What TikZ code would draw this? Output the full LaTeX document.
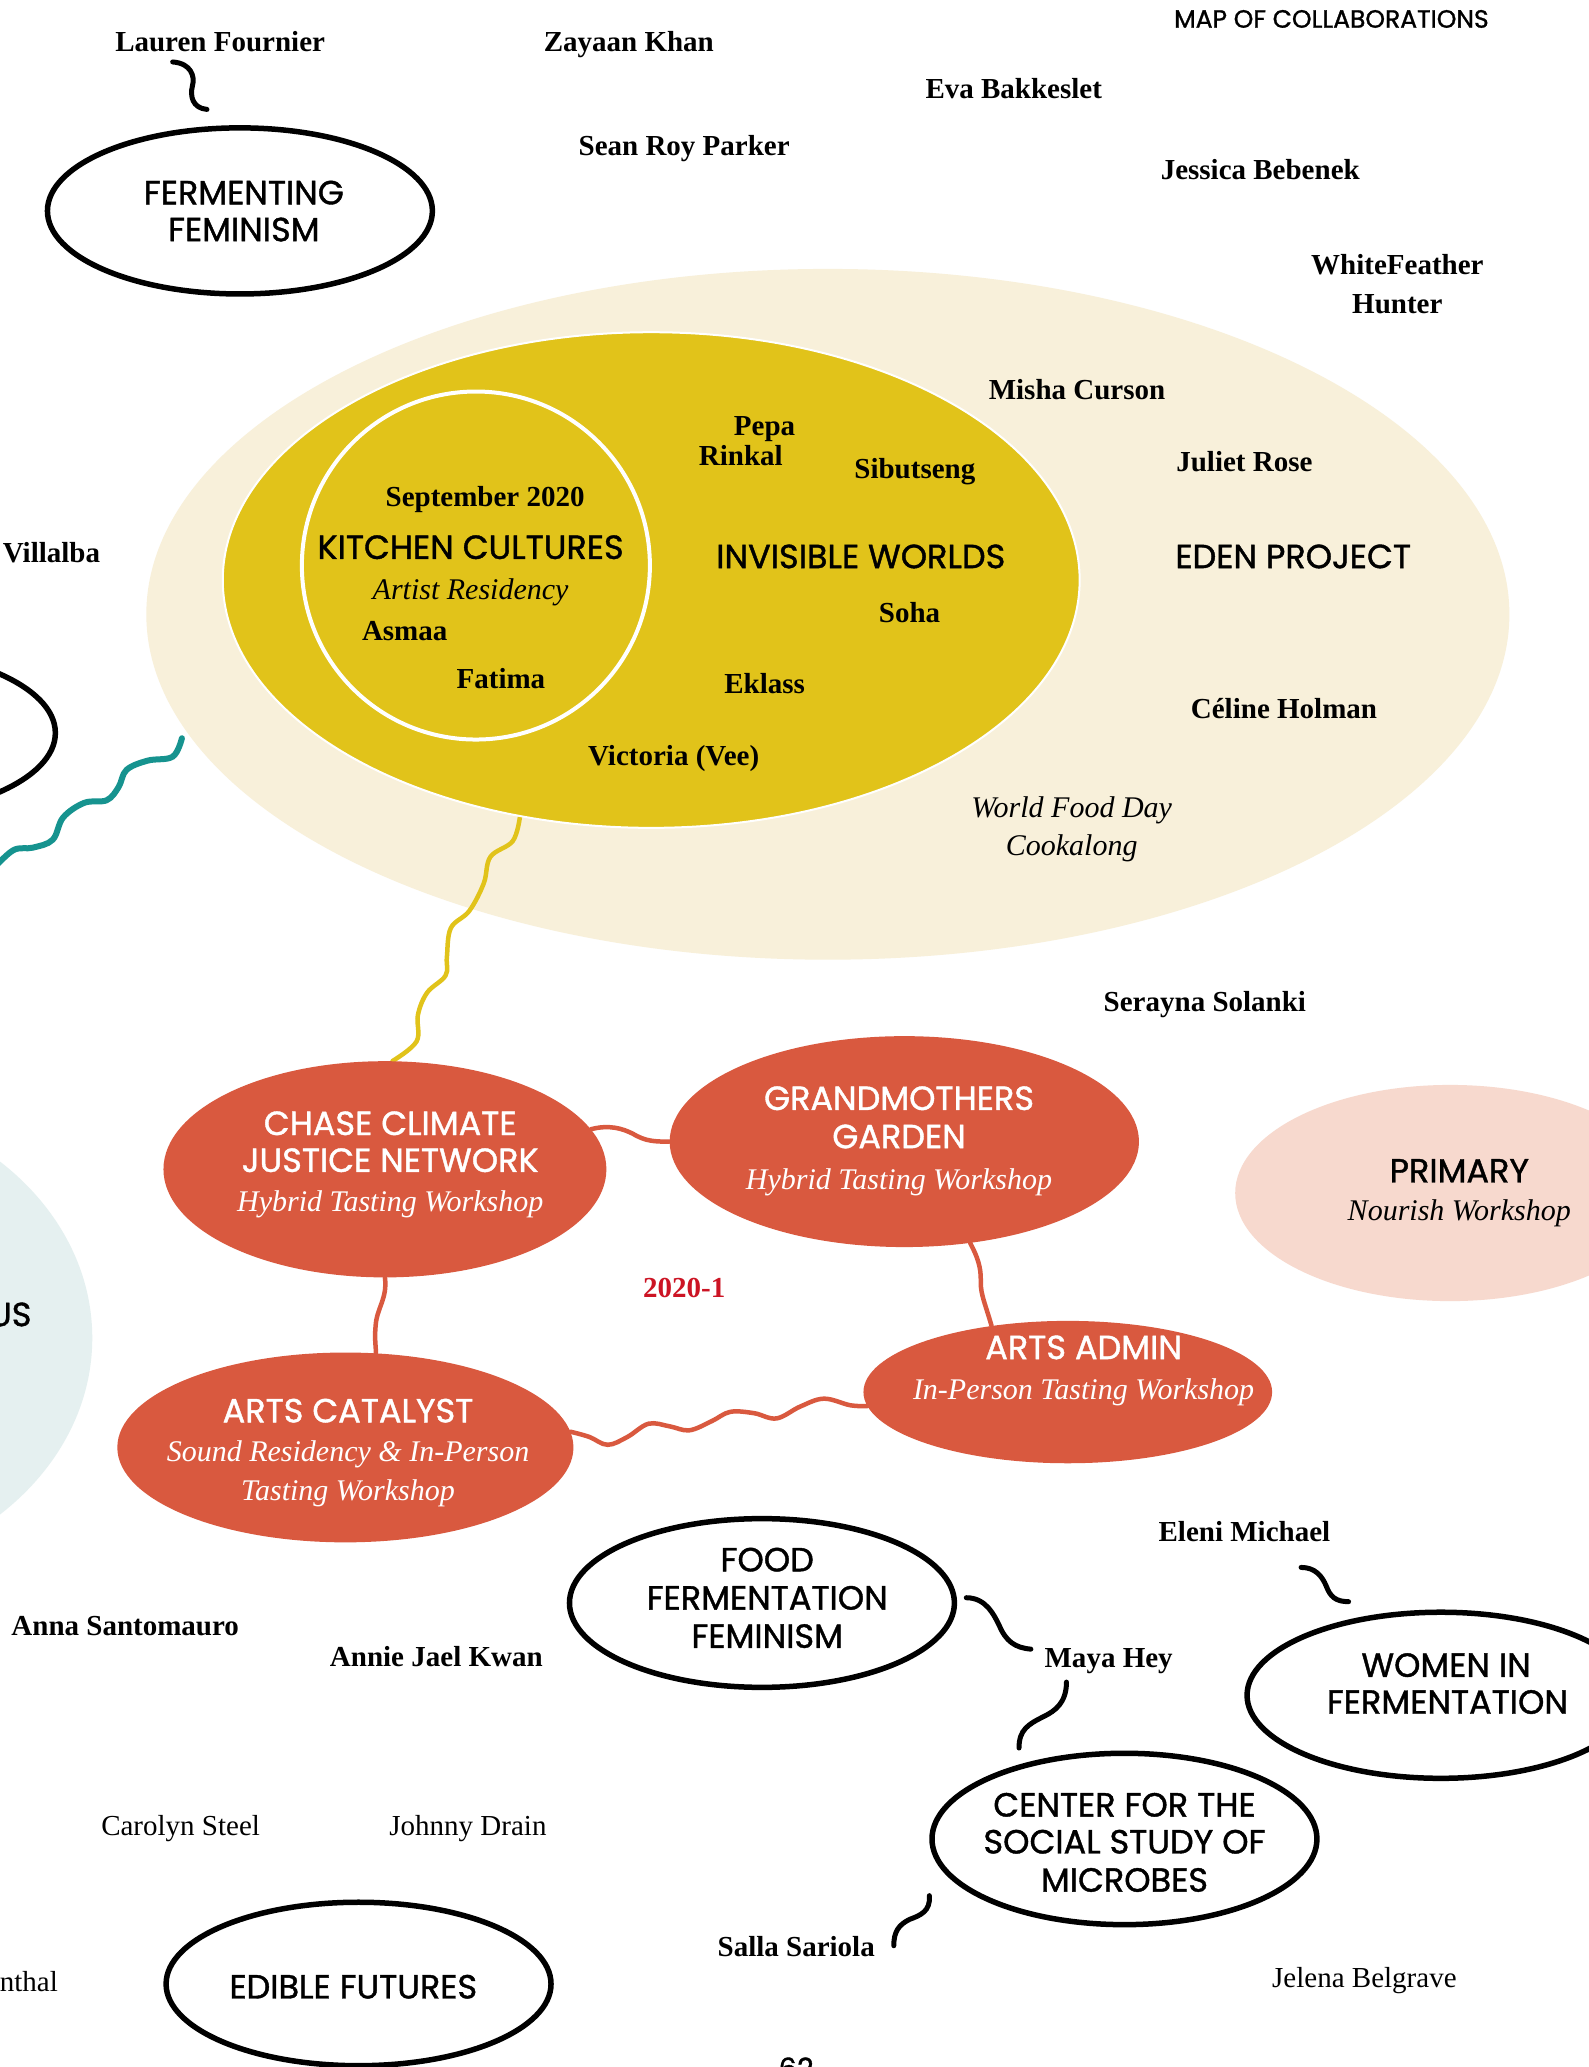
\documentclass[tikz,border=0pt]{standalone}
\usepackage{fontspec}
\setmainfont{Liberation Serif}
\newfontfamily\sansf[FakeBold=1.2]{Poppins}
\usetikzlibrary{shapes.geometric}
\definecolor{cream}{HTML}{F8F0DA}
\definecolor{yel}{HTML}{E1C31A}
\definecolor{redc}{HTML}{D9593F}
\definecolor{pinkc}{HTML}{F7D9CE}
\definecolor{lblue}{HTML}{E5F0F0}
\definecolor{tealc}{HTML}{16938F}
\definecolor{datered}{HTML}{CC1424}
\pgfdeclarelayer{back}
\pgfdeclarelayer{conn}
\pgfsetlayers{back,conn,main}
\tikzset{
  labl/.style={inner sep=0pt, anchor=base},
  nml/.style={labl, font=\fontsize{29}{34}\selectfont\bfseries},
  nrl/.style={labl, font=\fontsize{29}{34}\selectfont},
  itl/.style={labl, font=\fontsize{30}{34}\selectfont\itshape},
  capl/.style={labl, font=\sansf\fontsize{33.5}{38}\selectfont},
  ell/.style 2 args={ellipse, inner sep=0pt, minimum width=#1*2.636pt, minimum height=#2*2.636pt},
  bell/.style={draw=black, line width=5.5pt},
  squig/.style={line width=5pt, line cap=round, draw=black},
  rconn/.style={line width=4.5pt, draw=redc, line cap=round},
  yconn/.style={line width=4.5pt, draw=yel, line cap=round},
  tconn/.style={line width=6pt, draw=tealc, line cap=round},
}
\begin{document}
\begin{tikzpicture}[x=1.318pt,y=-1.318pt]
\useasboundingbox (0,0) rectangle (1205,1568);
\begin{pgfonlayer}{back}
\fill[white] (-20,-20) rectangle (1225,1590);
\node[ell={517}{262}, fill=cream] (eden) at (628,466) {};
\node[ell={220}{183}, fill=lblue] (lb) at (-150,1015) {};
\end{pgfonlayer}

% main shapes
\node[ell={325}{188}, fill=yel, draw=white, line width=2pt] (inv) at (494,440) {};
\node[ell={132}{132}, fill=yel, draw=white, line width=4pt] (kc) at (361,429) {};
\node[ell={168}{82}, fill=redc] (chase) at (292,887) {};
\node[ell={178}{80}, fill=redc] (grand) at (686,866) {};
\node[ell={155}{54}, fill=redc] (admin) at (810,1056) {};
\node[ell={173}{72}, fill=redc] (cat) at (262,1098) {};
\node[ell={163}{82}, fill=pinkc] (prim) at (1100,905) {};
\node[ell={146}{63}, bell] (ff) at (182,160) {};
\node[ell={146}{64}, bell] (food) at (578,1216) {};
\node[ell={147}{63}, bell] (women) at (1093,1286) {};
\node[ell={146}{65}, bell] (csm) at (853,1395) {};
\node[ell={146}{62}, bell] (edible) at (272,1505) {};
\node[ell={148}{64}, bell] (lx) at (-106,556) {};

% free ends of connectors
\coordinate (tA) at (138,560);
\coordinate (tB) at (-6,660);
\coordinate (lfA) at (131,47);   \coordinate (lfB) at (157,83);
\coordinate (fmA) at (733,1212); \coordinate (fmB) at (782,1251);
\coordinate (mcA) at (809,1276); \coordinate (mcB) at (773,1326);
\coordinate (ewA) at (987,1189); \coordinate (ewB) at (1023,1215);
\coordinate (scA) at (705,1438); \coordinate (scB) at (678,1476);

\begin{pgfonlayer}{conn}
\draw[yconn] plot[smooth, tension=0.6] coordinates {(inv.-119) (389,638) (372,650) (367,670) (356,691) (342,704) (339,726) (338,740) (324,753) (317,770) (316,790) (chase.86)};
\draw[tconn] plot[smooth, tension=0.6] coordinates {(tA) (131,574) (112,577) (96,584) (90,597) (81,607) (64,609) (48,620) (40,637) (25,643) (10,645) (tB)};
\draw[rconn] (chase.11) .. controls (462,853) and (472,856) .. (480,860) .. controls (490,866) and (497,866) .. (grand.180);
\draw[rconn] (chase.south) .. controls (294,985) and (286,992) .. (285,1005) .. controls (284,1015) and (285,1020) .. (cat.72);
\draw[rconn] (grand.-57) .. controls (744,958) and (744,965) .. (744,973) .. controls (744,982) and (747,988) .. (admin.139);
\draw[rconn] plot[smooth, tension=0.6] coordinates {(cat.4) (447,1090) (461,1096) (476,1090) (492,1080) (508,1082) (523,1085) (540,1078) (554,1071) (572,1072) (589,1076) (607,1067) (625,1061) (645,1066) (admin.184)};
\end{pgfonlayer}

\draw[squig] (lfA) .. controls (145,48) and (148,58) .. (146,65) .. controls (144,73) and (146,82) .. (lfB);
\draw[squig] (fmA) .. controls (748,1212) and (754,1225) .. (758,1233) .. controls (763,1245) and (770,1250) .. (fmB);
\draw[squig] (mcA) .. controls (809,1292) and (800,1298) .. (792,1302) .. controls (780,1308) and (773,1312) .. (mcB);
\draw[squig] (ewA) .. controls (998,1189) and (1003,1196) .. (1006,1203) .. controls (1009,1211) and (1013,1215) .. (ewB);
\draw[squig] (scA) .. controls (706,1450) and (698,1453) .. (690,1456) .. controls (682,1460) and (678,1465) .. (scB);

% sans capital labels
\node[capl, font=\sansf\fontsize{25}{29}\selectfont] (title) at (1010,21) {MAP OF COLLABORATIONS};
\node[capl] (t1) at (185,155) {FERMENTING};
\node[capl] (t2) at (185,183) {FEMINISM};
\node[capl] (t3) at (357,424) {KITCHEN CULTURES};
\node[capl] (t4) at (653,431) {INVISIBLE WORLDS};
\node[capl] (t5) at (981,431) {EDEN PROJECT};
\node[capl, text=white] (t6) at (296,861) {CHASE CLIMATE};
\node[capl, text=white] (t7) at (296,889) {JUSTICE NETWORK};
\node[capl, text=white] (t8) at (682,842) {GRANDMOTHERS};
\node[capl, text=white] (t9) at (682,871) {GARDEN};
\node[capl, text=white] (t10) at (822,1031) {ARTS ADMIN};
\node[capl, text=white] (t11) at (264,1079) {ARTS CATALYST};
\node[capl] (t12) at (1107,897) {PRIMARY};
\node[capl, anchor=base east] (t13) at (24,1006) {US};
\node[capl] (t14) at (582,1192) {FOOD};
\node[capl] (t15) at (582,1221) {FERMENTATION};
\node[capl] (t16) at (582,1250) {FEMINISM};
\node[capl] (t17) at (1097,1272) {WOMEN IN};
\node[capl] (t18) at (1098,1300) {FERMENTATION};
\node[capl] (t19) at (853,1378) {CENTER FOR THE};
\node[capl] (t20) at (853,1406) {SOCIAL STUDY OF};
\node[capl] (t21) at (853,1435) {MICROBES};
\node[capl] (t22) at (268,1516) {EDIBLE FUTURES};
\node[capl, font=\sansf\fontsize{29}{34}\selectfont] (pg) at (604,1577) {62};

% italic labels
\node[itl] (i1) at (357,455) {Artist Residency};
\node[itl] (i2) at (813,620) {World Food Day};
\node[itl] (i3) at (813,649) {Cookalong};
\node[itl, text=white] (i4) at (296,919) {Hybrid Tasting Workshop};
\node[itl, text=white] (i5) at (682,902) {Hybrid Tasting Workshop};
\node[itl, text=white] (i6) at (822,1062) {In-Person Tasting Workshop};
\node[itl, text=white] (i7) at (264,1109) {Sound Residency \& In-Person};
\node[itl, text=white] (i8) at (264,1138) {Tasting Workshop};
\node[itl] (i9) at (1107,926) {Nourish Workshop};

% bold names
\node[nml] (n1) at (167,39) {Lauren Fournier};
\node[nml] (n2) at (477,39) {Zayaan Khan};
\node[nml] (n3) at (769,75) {Eva Bakkeslet};
\node[nml] (n4) at (519,118) {Sean Roy Parker};
\node[nml] (n5) at (956,136) {Jessica Bebenek};
\node[nml] (n6) at (1060,208) {WhiteFeather};
\node[nml] (n7) at (1060,238) {Hunter};
\node[nml] (n8) at (817,303) {Misha Curson};
\node[nml] (n9) at (580,330) {Pepa};
\node[nml] (n10) at (562,353) {Rinkal};
\node[nml] (n11) at (694,363) {Sibutseng};
\node[nml] (n12) at (944,358) {Juliet Rose};
\node[nml] (n13) at (368,384) {September 2020};
\node[nml, anchor=base west] (n14) at (2,427) {Villalba};
\node[nml] (n15) at (307,486) {Asmaa};
\node[nml] (n16) at (690,472) {Soha};
\node[nml] (n17) at (380,522) {Fatima};
\node[nml] (n18) at (580,526) {Eklass};
\node[nml] (n19) at (974,545) {Céline Holman};
\node[nml] (n20) at (511,581) {Victoria (Vee)};
\node[nml] (n21) at (914,767) {Serayna Solanki};
\node[nml, text=datered] (n22) at (519,984) {2020-1};
\node[nml] (n23) at (944,1169) {Eleni Michael};
\node[nml] (n24) at (95,1241) {Anna Santomauro};
\node[nml] (n25) at (841,1265) {Maya Hey};
\node[nml] (n26) at (331,1264) {Annie Jael Kwan};
\node[nml] (n27) at (604,1484) {Salla Sariola};

% regular names
\node[nrl] (r1) at (137,1392) {Carolyn Steel};
\node[nrl] (r2) at (355,1392) {Johnny Drain};
\node[nrl] (r3) at (1035,1508) {Jelena Belgrave};
\node[nrl, anchor=base east] (r4) at (44,1511) {nthal};
\end{tikzpicture}
\end{document}
